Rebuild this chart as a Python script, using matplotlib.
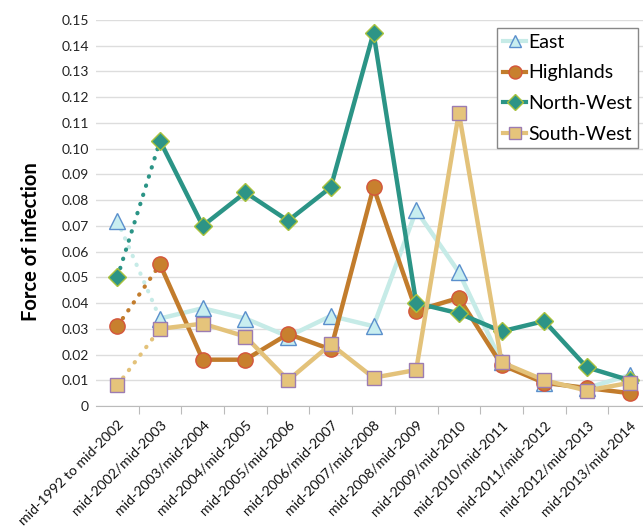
import numpy as np
import matplotlib
matplotlib.use('Agg')
import matplotlib.pyplot as plt
from matplotlib.lines import Line2D

plt.rcParams['font.family'] = ['Lato', 'DejaVu Sans']

periods = ['mid-1992 to mid-2002', 'mid-2002/mid-2003', 'mid-2003/mid-2004',
           'mid-2004/mid-2005', 'mid-2005/mid-2006', 'mid-2006/mid-2007',
           'mid-2007/mid-2008', 'mid-2008/mid-2009', 'mid-2009/mid-2010',
           'mid-2010/mid-2011', 'mid-2011/mid-2012', 'mid-2012/mid-2013',
           'mid-2013/mid-2014']

east = [0.072, 0.034, 0.038, 0.034, 0.027, 0.035, 0.031, 0.076, 0.052,
        0.017, 0.009, 0.007, 0.012]
highlands = [0.031, 0.055, 0.018, 0.018, 0.028, 0.022, 0.085, 0.037, 0.042,
             0.016, 0.009, 0.007, 0.005]
north_west = [0.050, 0.103, 0.070, 0.083, 0.072, 0.085, 0.145, 0.040, 0.036,
              0.029, 0.033, 0.015, 0.010]
south_west = [0.008, 0.030, 0.032, 0.027, 0.010, 0.024, 0.011, 0.014, 0.114,
              0.017, 0.010, 0.006, 0.009]

yticks = [0, 0.01, 0.02, 0.03, 0.04, 0.05, 0.06, 0.07, 0.08, 0.09, 0.10,
          0.11, 0.12, 0.13, 0.14, 0.15]
ytick_labels = ['0', '0.01', '0.02', '0.03', '0.04', '0.05', '0.06', '0.07',
                '0.08', '0.09', '0.10', '0.11', '0.12', '0.13', '0.14', '0.15']

# name, values, line colour, marker, face, edge, marker size
series = [
    ('East', east, '#c6ebe7', '^', '#c8eef0', '#5a8fcc', 11),
    ('Highlands', highlands, '#c27c2c', 'o', '#c8802e', '#d4553c', 11),
    ('North-West', north_west, '#2b9486', 'D', '#2d9486', '#a9c23e', 9),
    ('South-West', south_west, '#e3c27a', 's', '#e5c47b', '#9c7cb2', 10),
]

fig = plt.figure(figsize=(6.43, 5.32), dpi=100)
ax = fig.add_axes([96/643, 126/532, 555/643, 386/532])

x = np.arange(len(periods))
handles = []
for i, (name, vals, lc, mk, fc, ec, ms) in enumerate(series):
    vals = np.array(vals)
    z = 3 + i
    ax.plot(x[:2], vals[:2], color=lc, lw=3, ls=(0, (0.1, 2.2)),
            dash_capstyle='round', zorder=z)
    ax.plot(x[1:], vals[1:], color=lc, lw=3.2, zorder=z)
    ax.plot(x, vals, ls='none', marker=mk, ms=ms, mfc=fc, mec=ec, mew=1,
            zorder=z)
    handles.append(Line2D([0], [0], color=lc, lw=3, marker=mk, ms=ms * 0.85,
                          mfc=fc, mec=ec, mew=1, label=name))

ax.set_xlim(-0.5, 12.5)
ax.set_ylim(0, 0.15)
ax.set_yticks(yticks)
ax.set_yticklabels(ytick_labels, fontsize=10, color='#222222')
ax.tick_params(axis='y', length=0, pad=5)

ax.set_xticks(x + 0.5, minor=False)
ax.set_xticklabels([])
ax.set_xticks(x, minor=True)
ax.set_xticklabels(periods, minor=True, rotation=45, ha='right',
                   rotation_mode='anchor', fontsize=10.2, color='#111111')
ax.tick_params(axis='x', which='major', length=6, color='#bbbbbb')
ax.tick_params(axis='x', which='minor', length=0, pad=9)

ax.grid(axis='y', color='#dddddd', lw=1)
ax.set_axisbelow(True)
for s in ['top', 'right', 'left']:
    ax.spines[s].set_visible(False)
ax.spines['bottom'].set_color('#bbbbbb')

fig.text(31/643, 1 - 242/532, 'Force of infection', rotation=90,
         fontsize=14.5, fontweight='bold', ha='center', va='center')

leg = ax.legend(handles=handles, loc='upper right',
                bbox_to_anchor=(638/643, 1 - 28/532),
                bbox_transform=fig.transFigure, borderaxespad=0,
                fontsize=14, handlelength=1.2, handletextpad=0.1,
                labelspacing=0.7, fancybox=False, framealpha=1,
                edgecolor='#888888', borderpad=0.3)
leg.get_frame().set_linewidth(1)

fig.savefig('out.png', dpi=100)
